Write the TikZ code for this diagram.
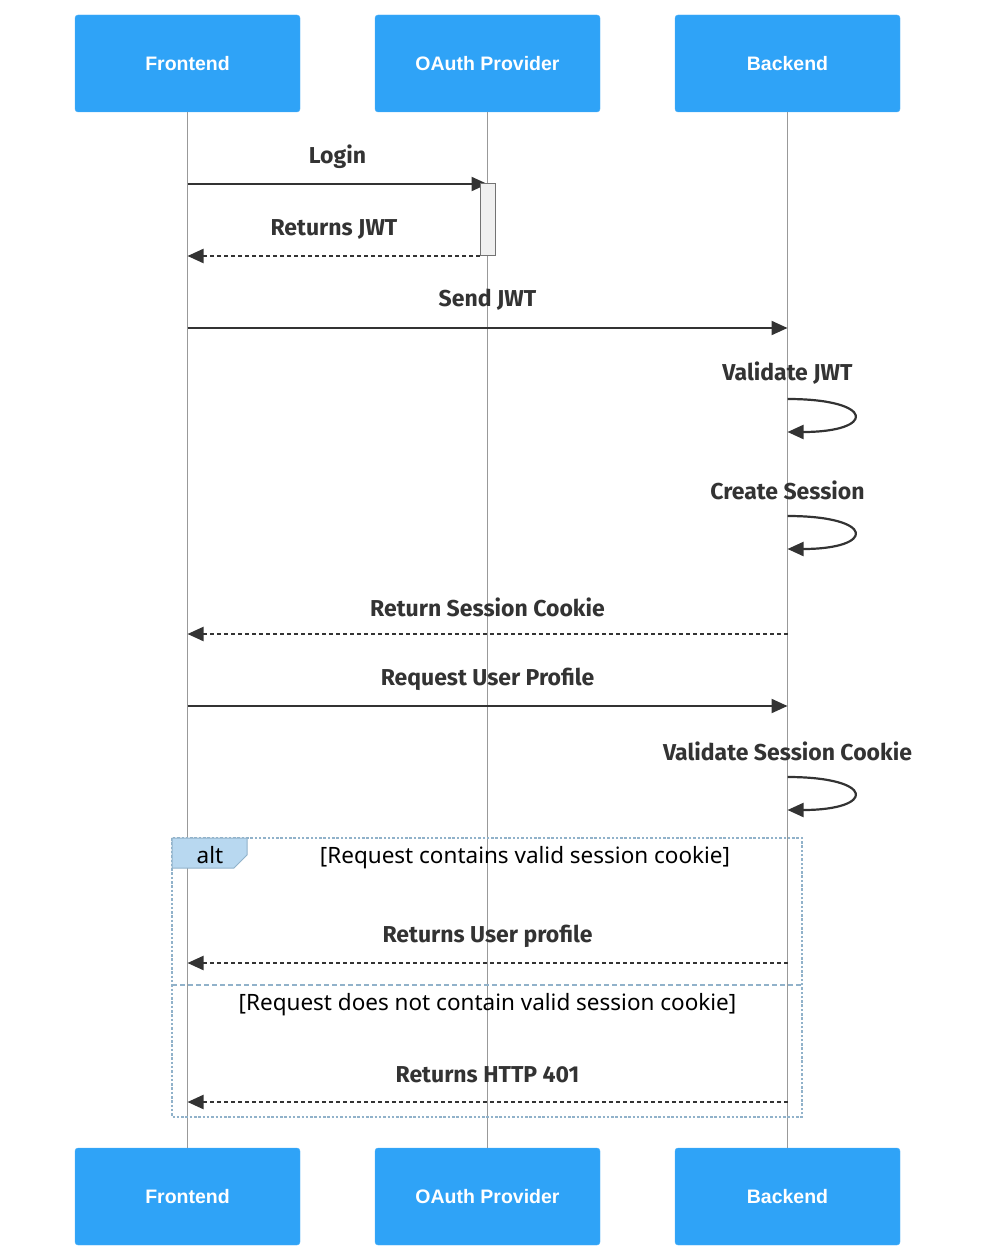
\documentclass[tikz,border=0pt]{standalone}
\usepackage{fontspec}
\setmainfont{Liberation Sans}
\newfontfamily\msgfont{Fira Sans}
\newfontfamily\condfont{Noto Sans}
\usepackage{xcolor}
\usepackage{tikz}
\usetikzlibrary{arrows.meta}
\usetikzlibrary{shapes}

\definecolor{actorblue}{RGB}{47,163,247}
\definecolor{lifegrey}{RGB}{153,153,153}
\definecolor{arrowgrey}{RGB}{51,51,51}
\definecolor{altblue}{RGB}{145,178,202}
\definecolor{altfill}{RGB}{184,216,240}

\begin{document}
\begin{tikzpicture}[x=1pt, y=-1pt,
    actor/.style={rectangle, rounded corners=3pt, fill=actorblue, draw=actorblue!85!white,
        minimum width=225pt, minimum height=97pt, text=white,
        font=\fontsize{19.5}{23}\selectfont\bfseries},
    lifeline/.style={draw=lifegrey, line width=1pt},
    msg/.style={draw=arrowgrey, line width=2.2pt, -{Triangle[length=16pt, width=14pt]}},
    reply/.style={msg, dash pattern=on 4pt off 3pt},
    lbl/.style={text=arrowgrey, font=\msgfont\fontsize{23}{27}\selectfont\bfseries},
    cond/.style={text=black, font=\condfont\fontsize{22.5}{26}\selectfont},
    altframe/.style={draw=altblue, line width=2.6pt, dash pattern=on 2.5pt off 1.8pt}]

        \useasboundingbox (0, 0) rectangle (989, 1246);

        \node[actor] (fe top) at (187.5, 63.5) {Frontend};
        \node[actor] (oa top) at (487.5, 63.5) {OAuth Provider};
        \node[actor] (be top) at (787.5, 63.5) {Backend};
        \node[actor] (fe bot) at (187.5, 1196.5) {Frontend};
        \node[actor] (oa bot) at (487.5, 1196.5) {OAuth Provider};
        \node[actor] (be bot) at (787.5, 1196.5) {Backend};

        \draw[lifeline] (fe top) -- (fe bot);
        \draw[lifeline] (oa top) -- (oa bot);
        \draw[lifeline] (be top) -- (be bot);

        \draw[altframe] (172, 838) rectangle (802, 1117);
        \draw[altblue, line width=2.6pt, dash pattern=on 5pt off 3pt] (172, 985) -- (802, 985);
        \filldraw[fill=altfill, draw=altblue, line width=1pt]
            (172, 838) -- (247, 838) -- (247, 855) -- (234, 868) -- (172, 868) -- cycle;
        \node[cond] (alt) at (210, 855) {alt};
        \node[cond] (cond1) at (525, 858) {[Request contains valid session cookie]};
        \node[cond] (cond2) at (487.5, 1005) {[Request does not contain valid session cookie]};

        \coordinate (fe1) at (187.5, 184);
        \coordinate (oa1) at (487.5, 184);
        \coordinate (fe2) at (187.5, 256);
        \coordinate (oa2) at (480, 256);
        \coordinate (fe3) at (187.5, 328);
        \coordinate (be3) at (787.5, 328);
        \coordinate (be4) at (787.5, 399);
        \coordinate (be4r) at (787.5, 432);
        \coordinate (be5) at (787.5, 516);
        \coordinate (be5r) at (787.5, 549);
        \coordinate (fe6) at (187.5, 634);
        \coordinate (be6) at (787.5, 634);
        \coordinate (fe7) at (187.5, 706);
        \coordinate (be7) at (787.5, 706);
        \coordinate (be8) at (787.5, 777);
        \coordinate (be8r) at (787.5, 810);
        \coordinate (fe9) at (187.5, 963);
        \coordinate (be9) at (787.5, 963);
        \coordinate (fe10) at (187.5, 1102);
        \coordinate (be10) at (787.5, 1102);

        \draw[msg] (fe1) -- (oa1);
        \node[lbl] (login) at (337.5, 157) {Login};
        \draw[reply] (oa2) -- (fe2);
        \node[lbl] (jwt) at (334, 229) {Returns JWT};
        \draw[msg] (fe3) -- (be3);
        \node[lbl] (send) at (487.5, 300) {Send JWT};
        \draw[msg] (be4) .. controls (876, 399) and (876, 432) .. (be4r);
        \node[lbl] (valjwt) at (787.5, 373) {Validate JWT};
        \draw[msg] (be5) .. controls (876, 516) and (876, 549) .. (be5r);
        \node[lbl] (session) at (787.5, 490) {Create Session};
        \draw[reply] (be6) -- (fe6);
        \node[lbl] (cookie) at (487.5, 607) {Return Session Cookie};
        \draw[msg] (fe7) -- (be7);
        \node[lbl] (profile) at (487.5, 679) {Request User Profile};
        \draw[msg] (be8) .. controls (876, 777) and (876, 810) .. (be8r);
        \node[lbl] (valcookie) at (787.5, 751) {Validate Session Cookie};
        \draw[reply] (be9) -- (fe9);
        \node[lbl] (userprof) at (487.5, 936) {Returns User profile};
        \draw[reply] (be10) -- (fe10);
        \node[lbl] (http) at (487.5, 1075) {Returns HTTP 401};

        \filldraw[fill=black!6, draw=black!55, line width=1pt] (480, 184) rectangle (495, 256);
    \end{tikzpicture}
\end{document}
